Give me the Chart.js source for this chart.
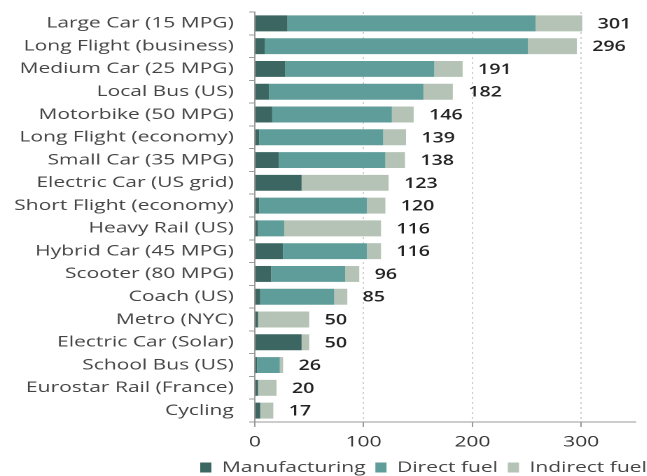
<!DOCTYPE html>
<html>
<head>
<meta charset="utf-8">
<script src="https://cdn.jsdelivr.net/npm/chart.js@4.4.0/dist/chart.umd.min.js"></script>
<style>
    html, body { margin: 0; padding: 0; background: #ffffff; overflow: hidden; }
    /* the original picture is stretched sideways, so the chart is drawn narrow and widened */
    #wrap { width: 462px; height: 476px; transform: scaleX(1.4); transform-origin: 0 0; }
</style>
</head>
<body>
<div id="wrap"><canvas id="graficoTransporte"></canvas></div>
<script>
const categorias = [
    'Large Car (15 MPG)', 'Long Flight (business)', 'Medium Car (25 MPG)', 'Local Bus (US)',
    'Motorbike (50 MPG)', 'Long Flight (economy)', 'Small Car (35 MPG)', 'Electric Car (US grid)',
    'Short Flight (economy)', 'Heavy Rail (US)', 'Hybrid Car (45 MPG)', 'Scooter (80 MPG)',
    'Coach (US)', 'Metro (NYC)', 'Electric Car (Solar)', 'School Bus (US)',
    'Eurostar Rail (France)', 'Cycling'
];
const manufacturing = [30, 9, 28, 13, 16, 4, 22, 43, 4, 3, 26, 15, 5, 3, 43, 2, 3, 5];
const directFuel = [228, 242, 137, 142, 110, 114, 98, 0, 99, 24, 77, 68, 68, 0, 0, 21, 0, 0];
const indirectFuel = [43, 45, 26, 27, 20, 21, 18, 80, 17, 89, 13, 13, 12, 47, 7, 3, 17, 12];
const xTicks = [0, 100, 200, 300];

document.addEventListener('DOMContentLoaded', () => {
    const ctx = document.getElementById('graficoTransporte').getContext('2d');
    Chart.defaults.font.family = "'Open Sans', sans-serif";

    // totals written at the end of every bar
    const totalLabels = {
        id: 'totalLabels',
        afterLayout(chart) {
            // push the legend to the right edge, like the original
            chart.legend.left += 15;
            chart.legend.right += 15;
            chart.legend.top += 1;
            chart.legend.bottom += 1;
        },
        afterDatasetsDraw(chart) {
            const c = chart.ctx;
            const xScale = chart.scales.x;
            const meta = chart.getDatasetMeta(2);
            c.save();
            c.font = "600 14px 'Open Sans', sans-serif";
            c.fillStyle = '#222222';
            c.textAlign = 'left';
            c.textBaseline = 'middle';
            categorias.forEach((cat, i) => {
                const total = manufacturing[i] + directFuel[i] + indirectFuel[i];
                c.fillText(String(total), xScale.getPixelForValue(total) + 11, meta.data[i].y + 1);
            });
            c.restore();
        }
    };

    new Chart(ctx, {
        type: 'bar',
        data: {
            labels: categorias,
            datasets: [
                { label: 'Manufacturing', data: manufacturing, backgroundColor: '#3b6661' },
                { label: 'Direct fuel', data: directFuel, backgroundColor: '#5f9d9a' },
                { label: 'Indirect fuel', data: indirectFuel, backgroundColor: '#b4c3b5' }
            ]
        },
        options: {
            indexAxis: 'y',
            responsive: true,
            maintainAspectRatio: false,
            animation: false,
            devicePixelRatio: 2,
            barPercentage: 0.7,
            categoryPercentage: 1,
            layout: { padding: { top: 12, right: 8, left: 0, bottom: -8 } },
            plugins: {
                legend: {
                    position: 'bottom',
                    align: 'end',
                    labels: {
                        color: '#444444',
                        font: { size: 15 },
                        boxWidth: 8,
                        boxHeight: 10,
                        padding: 7
                    }
                },
                tooltip: { enabled: false }
            },
            scales: {
                x: {
                    stacked: true,
                    min: 0,
                    max: 350,
                    afterBuildTicks: (scale) => { scale.ticks = xTicks.map(v => ({ value: v })); },
                    afterFit: (scale) => { scale.height -= 5; },
                    ticks: { color: '#333333', font: { size: 15 }, padding: 6 },
                    grid: { color: '#d0d0d0', tickColor: '#999999', tickLength: 5, tickBorderDash: [] },
                    border: { color: '#999999', width: 1, dash: [2, 3] }
                },
                y: {
                    stacked: true,
                    afterFit: (scale) => {
                        scale.width = 182;
                        scale.paddingTop = 0;
                        scale.paddingBottom = 0;
                    },
                    ticks: { color: '#444444', font: { size: 15 }, padding: 11 },
                    grid: { drawOnChartArea: false, color: '#999999', tickLength: 4 },
                    border: { color: '#999999', width: 1 }
                }
            }
        },
        plugins: [totalLabels]
    });
});
</script>
</body>
</html>
